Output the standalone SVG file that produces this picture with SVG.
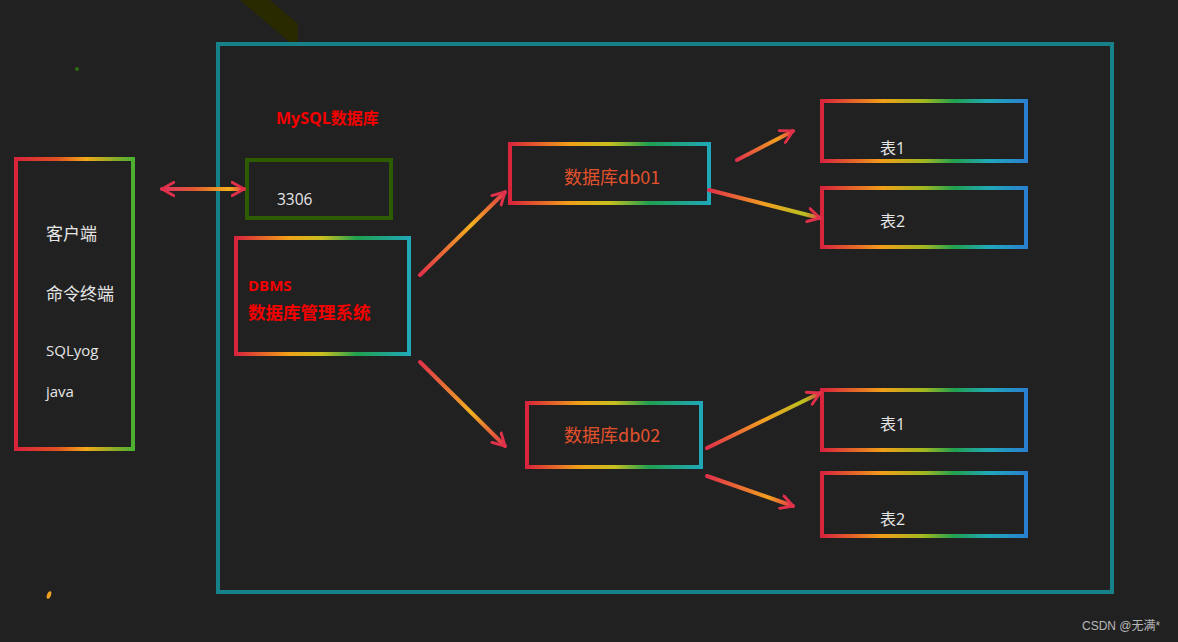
<svg xmlns="http://www.w3.org/2000/svg" width="1178" height="642" viewBox="0 0 1178 642">
<style>
.bg{fill:#212121}
.box{fill:none;stroke-width:4}
.wt{fill:#e6e6e6;font-family:"Open Sans","Noto Sans CJK SC",sans-serif}
.rd{fill:#f40000;font-family:"Open Sans","Noto Sans CJK SC",sans-serif;font-weight:bold}
.db{fill:#e2512c;font-family:"Noto Sans CJK SC","Open Sans",sans-serif;font-size:18px}
.arr{fill:none;stroke-width:4;stroke-linecap:round}
</style>
<defs>
<linearGradient id="gClient" x1="0" y1="0" x2="1" y2="0">
<stop offset="0" stop-color="#d8243c"/><stop offset="0.35" stop-color="#e05020"/><stop offset="0.6" stop-color="#f0a818"/><stop offset="1" stop-color="#4caf30"/>
</linearGradient>
<linearGradient id="gDbms" x1="0" y1="0" x2="1" y2="0">
<stop offset="0" stop-color="#d8243c"/><stop offset="0.3" stop-color="#f0a018"/><stop offset="0.5" stop-color="#c8c020"/><stop offset="0.7" stop-color="#20a050"/><stop offset="1" stop-color="#20a8b8"/>
</linearGradient>
<linearGradient id="gTbl" x1="0" y1="0" x2="1" y2="0">
<stop offset="0" stop-color="#d8243c"/><stop offset="0.3" stop-color="#f0a018"/><stop offset="0.5" stop-color="#a0b820"/><stop offset="0.65" stop-color="#20a050"/><stop offset="0.82" stop-color="#20a8b8"/><stop offset="1" stop-color="#2a80d0"/>
</linearGradient>
<marker id="ah" viewBox="0 0 12 12" refX="10" refY="6" markerWidth="4" markerHeight="4" orient="auto-start-reverse" markerUnits="strokeWidth">
<path d="M1,1 L10,6 L1,11" fill="none" stroke="#e0304a" stroke-width="2.2" stroke-linecap="round" stroke-linejoin="round"/>
</marker>
<linearGradient id="a0" gradientUnits="userSpaceOnUse" x1="160" y1="189" x2="246" y2="189"><stop offset="0" stop-color="#e0306a"/><stop offset="0.4" stop-color="#e05a30"/><stop offset="0.8" stop-color="#f2b020"/><stop offset="1" stop-color="#e0304a"/></linearGradient>
<linearGradient id="a1" gradientUnits="userSpaceOnUse" x1="419" y1="275" x2="506" y2="190"><stop offset="0" stop-color="#e0304a"/><stop offset="0.6" stop-color="#f2b020"/><stop offset="1" stop-color="#e0304a"/></linearGradient>
<linearGradient id="a2" gradientUnits="userSpaceOnUse" x1="419" y1="361" x2="506" y2="447"><stop offset="0" stop-color="#e0304a"/><stop offset="0.6" stop-color="#f2b020"/><stop offset="1" stop-color="#e0304a"/></linearGradient>
<linearGradient id="a3" gradientUnits="userSpaceOnUse" x1="736" y1="160" x2="795" y2="131"><stop offset="0" stop-color="#e0304a"/><stop offset="0.7" stop-color="#f2a020"/><stop offset="1" stop-color="#e0304a"/></linearGradient>
<linearGradient id="a4" gradientUnits="userSpaceOnUse" x1="709" y1="190" x2="822" y2="218"><stop offset="0" stop-color="#e0304a"/><stop offset="0.5" stop-color="#f2a020"/><stop offset="0.85" stop-color="#b8c020"/><stop offset="1" stop-color="#e0304a"/></linearGradient>
<linearGradient id="a5" gradientUnits="userSpaceOnUse" x1="706" y1="448" x2="822" y2="392"><stop offset="0" stop-color="#e0304a"/><stop offset="0.5" stop-color="#f2a020"/><stop offset="0.85" stop-color="#b8c020"/><stop offset="1" stop-color="#e0304a"/></linearGradient>
<linearGradient id="a6" gradientUnits="userSpaceOnUse" x1="706" y1="476" x2="795" y2="507"><stop offset="0" stop-color="#e0304a"/><stop offset="0.7" stop-color="#f2a020"/><stop offset="1" stop-color="#e0304a"/></linearGradient>
</defs>
<rect class="bg" x="0" y="0" width="1178" height="642"/>
<g id="decor">
<polygon points="240,0 270,0 298,24 298,44 292,44" fill="#2a2a00"/>
<circle cx="77" cy="69" r="2" fill="#2f6a10"/>
<ellipse cx="49" cy="595" rx="2" ry="4" fill="#f0a020" transform="rotate(20 49 595)"/>
</g>
<g id="mysql-frame">
<rect x="218" y="44" width="894" height="548" fill="none" stroke="#168189" stroke-width="4"/>
<text class="rd" x="276" y="124" font-size="16">MySQL数据库</text>
</g>
<g id="client">
<rect class="box" x="16" y="159" width="117" height="290" stroke="url(#gClient)"/>
<text class="wt" x="46" y="240" font-size="17">客户端</text>
<text class="wt" x="46" y="300" font-size="17">命令终端</text>
<text class="wt" x="46" y="356" font-size="15">SQLyog</text>
<text class="wt" x="46" y="397" font-size="15">java</text>
</g>
<g id="port">
<rect x="247" y="160" width="144" height="58" fill="none" stroke="#2d5c00" stroke-width="4"/>
<text class="wt" x="277" y="205" font-size="15.5">3306</text>
</g>
<g id="dbms">
<rect class="box" x="236" y="238" width="173" height="116" stroke="url(#gDbms)"/>
<text class="rd" x="248" y="291" font-size="15">DBMS</text>
<text class="rd" x="248" y="319" font-size="17.5">数据库管理系统</text>
</g>
<g id="db01">
<rect class="box" x="510" y="144" width="199" height="59" stroke="url(#gDbms)"/>
<text class="db" x="564" y="184">数据库db01</text>
</g>
<g id="db02">
<rect class="box" x="527" y="403" width="174" height="64" stroke="url(#gDbms)"/>
<text class="db" x="564" y="442">数据库db02</text>
</g>
<g id="db01-t1">
<rect class="box" x="822" y="101" width="204" height="60" stroke="url(#gTbl)"/>
<text class="wt" x="880" y="154" font-size="16">表1</text>
</g>
<g id="db01-t2">
<rect class="box" x="822" y="188" width="204" height="59" stroke="url(#gTbl)"/>
<text class="wt" x="880" y="227" font-size="16">表2</text>
</g>
<g id="db02-t1">
<rect class="box" x="822" y="390" width="204" height="60" stroke="url(#gTbl)"/>
<text class="wt" x="880" y="430" font-size="16">表1</text>
</g>
<g id="db02-t2">
<rect class="box" x="822" y="473" width="204" height="63" stroke="url(#gTbl)"/>
<text class="wt" x="880" y="525" font-size="16">表2</text>
</g>
<g id="connectors">
<line class="arr" x1="162" y1="189" x2="244" y2="189" stroke="url(#a0)" marker-start="url(#ah)" marker-end="url(#ah)"/>
<line class="arr" x1="420" y1="275" x2="505" y2="192" stroke="url(#a1)" marker-end="url(#ah)"/>
<line class="arr" x1="420" y1="362" x2="505" y2="446" stroke="url(#a2)" marker-end="url(#ah)"/>
<line class="arr" x1="737" y1="160" x2="793" y2="131" stroke="url(#a3)" marker-end="url(#ah)"/>
<line class="arr" x1="709" y1="190" x2="820" y2="218" stroke="url(#a4)" marker-end="url(#ah)"/>
<line class="arr" x1="707" y1="448" x2="820" y2="393" stroke="url(#a5)" marker-end="url(#ah)"/>
<line class="arr" x1="707" y1="476" x2="793" y2="506" stroke="url(#a6)" marker-end="url(#ah)"/>
</g>
<text x="1082" y="630" font-size="12" fill="#b8b8b8" font-family="'Liberation Sans','Noto Sans CJK SC',sans-serif">CSDN @无满*</text>
</svg>
